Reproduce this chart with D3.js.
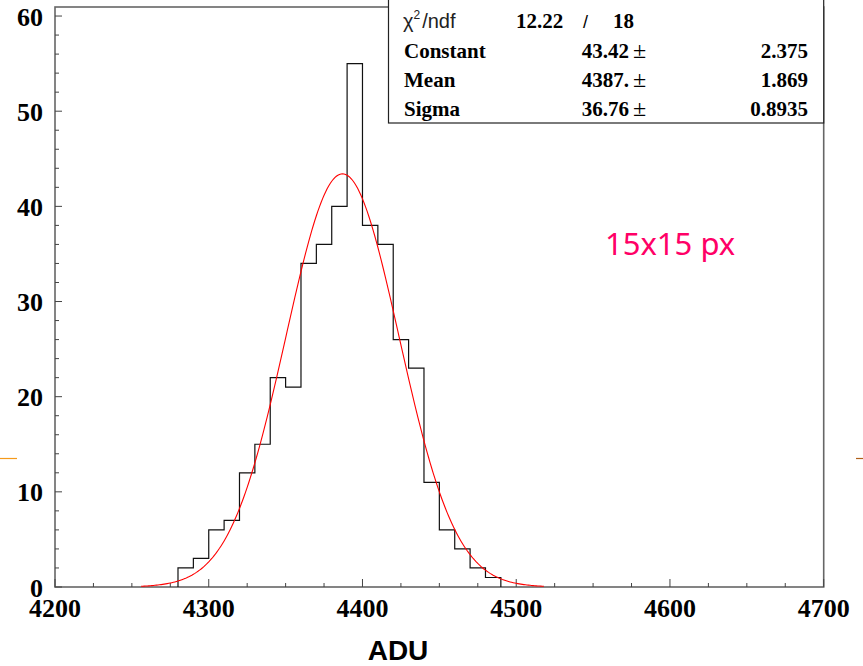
<!DOCTYPE html>
<html>
<head>
<meta charset="utf-8">
<script src="https://cdn.jsdelivr.net/npm/d3@7"></script>
<style>
  html, body { margin: 0; padding: 0; background: #fff; }
  svg { display: block; }
</style>
</head>
<body>
<svg id="chart" width="863" height="666"></svg>
<script>
// ---- data ----
const binStart = 4280;
const binWidth = 10;
const counts = [2, 3, 6, 7, 12, 15, 22, 21, 34, 36, 40, 55, 38, 36, 26, 23, 11, 6, 4, 2, 1];
const xTicks = [4200, 4300, 4400, 4500, 4600, 4700];
const yTicks = [0, 10, 20, 30, 40, 50, 60];
const fitConstant = 43.42;
const fitMean = 4387;
const fitSigma = 36.76;
const fitRange = [4256, 4518];
const statLabels = ["Constant", "Mean", "Sigma"];
const statValues = ["43.42", "4387.", "36.76"];
const statErrors = ["2.375", "1.869", "0.8935"];
const chiValue = "12.22";
const ndfValue = "18";
const xTitle = "ADU";
const annotation = "15x15 px";

// ---- layout ----
const L = 55, R = 823.7, T = 7, B = 587;
const svg = d3.select("#chart");
const x = d3.scaleLinear().domain([4200, 4700]).range([L, R]);
const y = d3.scaleLinear().domain([0, 60.95]).range([B, T]);

const serif = "'Liberation Serif', 'Times New Roman', serif";
const sans = "'Liberation Sans', Arial, sans-serif";

// frame
svg.append("rect").attr("x", L).attr("y", T).attr("width", R - L).attr("height", B - T)
  .attr("fill", "none").attr("stroke", "#666").attr("stroke-width", 1.6);

// x ticks
const xMinor = d3.range(4200, 4700.1, 25);
svg.append("g").selectAll("line").data(xMinor).join("line")
  .attr("x1", d => x(d)).attr("x2", d => x(d))
  .attr("y1", B).attr("y2", d => B - (d % 100 === 0 ? 8 : 4))
  .attr("stroke", "#444").attr("stroke-width", 1);
svg.append("g").selectAll("text").data(xTicks).join("text")
  .attr("x", d => x(d)).attr("y", B + 30)
  .attr("text-anchor", "middle")
  .attr("font-family", serif).attr("font-weight", "bold").attr("font-size", 26)
  .text(d => d);

// y ticks
const yMinor = d3.range(0, 60.1, 2);
svg.append("g").selectAll("line").data(yMinor).join("line")
  .attr("x1", L).attr("x2", d => L + (d % 10 === 0 ? 7 : 4))
  .attr("y1", d => y(d)).attr("y2", d => y(d))
  .attr("stroke", "#444").attr("stroke-width", 1);
svg.append("g").selectAll("text").data(yTicks).join("text")
  .attr("x", 43).attr("y", d => y(d) + 9.5)
  .attr("text-anchor", "end")
  .attr("font-family", serif).attr("font-weight", "bold").attr("font-size", 26)
  .text(d => d);

// histogram outline
const pts = [[binStart, 0]];
counts.forEach((c, i) => {
  pts.push([binStart + i * binWidth, c]);
  pts.push([binStart + (i + 1) * binWidth, c]);
});
pts.push([binStart + counts.length * binWidth, 0]);
const line = d3.line().x(d => x(d[0])).y(d => y(d[1]));
svg.append("path").attr("d", line(pts))
  .attr("fill", "none").attr("stroke", "#111").attr("stroke-width", 1.2);

// gaussian fit curve
const fx = d3.range(fitRange[0], fitRange[1] + 0.01, 1);
const fitPts = fx.map(v => [v, fitConstant * Math.exp(-0.5 * Math.pow((v - fitMean) / fitSigma, 2))]);
svg.append("path").attr("d", line(fitPts))
  .attr("fill", "none").attr("stroke", "#ff0000").attr("stroke-width", 1.1);

// stats box
svg.append("rect").attr("x", 388.5).attr("y", -5).attr("width", R - 388.5).attr("height", 128)
  .attr("fill", "#fff").attr("stroke", "#222").attr("stroke-width", 1.2);

const chi = svg.append("text").attr("x", 403).attr("y", 28)
  .attr("font-family", sans).attr("font-size", 20).attr("fill", "#222");
chi.append("tspan").text("χ");
chi.append("tspan").attr("font-size", 12).attr("dy", -9).text("2");
chi.append("tspan").attr("dy", 9).attr("dx", 2).text("/ndf");
svg.append("text").attr("x", 516).attr("y", 28)
  .attr("font-family", serif).attr("font-weight", "bold").attr("font-size", 21).text(chiValue);
svg.append("text").attr("x", 583).attr("y", 28)
  .attr("font-family", sans).attr("font-size", 18).text("/");
svg.append("text").attr("x", 613).attr("y", 28)
  .attr("font-family", serif).attr("font-weight", "bold").attr("font-size", 21).text(ndfValue);

const rowY = [58, 87, 116];
statLabels.forEach((lab, i) => {
  svg.append("text").attr("x", 404).attr("y", rowY[i])
    .attr("font-family", serif).attr("font-weight", "bold").attr("font-size", 21).text(lab);
  svg.append("text").attr("x", 629).attr("y", rowY[i]).attr("text-anchor", "end")
    .attr("font-family", serif).attr("font-weight", "bold").attr("font-size", 21).text(statValues[i]);
  svg.append("text").attr("x", 633).attr("y", rowY[i])
    .attr("font-family", serif).attr("font-size", 24).text("±");
  svg.append("text").attr("x", 808).attr("y", rowY[i]).attr("text-anchor", "end")
    .attr("font-family", serif).attr("font-weight", "bold").attr("font-size", 21).text(statErrors[i]);
});

// annotation
svg.append("text").attr("x", 605).attr("y", 255)
  .attr("font-family", "'Noto Sans', 'Open Sans', sans-serif").attr("font-size", 31)
  .attr("fill", "#ff0066").text(annotation);

// axis title
svg.append("text").attr("x", 398).attr("y", 660).attr("text-anchor", "middle")
  .attr("font-family", sans).attr("font-weight", "bold").attr("font-size", 28).text(xTitle);

// slide stubs
svg.append("line").attr("x1", 0).attr("x2", 17).attr("y1", 458.5).attr("y2", 458.5)
  .attr("stroke", "#f59a1b").attr("stroke-width", 1.2);
svg.append("line").attr("x1", 856).attr("x2", 863).attr("y1", 458.5).attr("y2", 458.5)
  .attr("stroke", "#b0601a").attr("stroke-width", 1.2);
</script>
</body>
</html>
